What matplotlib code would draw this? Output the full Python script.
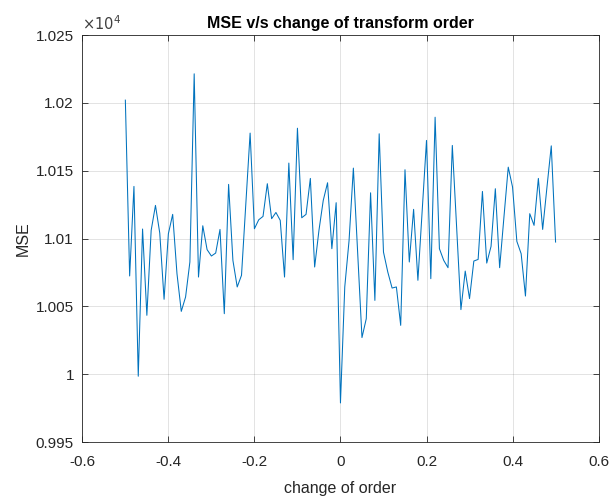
import numpy as np
import matplotlib
matplotlib.use("Agg")
import matplotlib.pyplot as plt
from matplotlib.ticker import FuncFormatter

# change of transform order, -0.5 .. 0.5 in steps of 0.01
order_change = np.round(np.arange(-50, 51) / 100, 2)

# MSE values (in units of 1e4)
mse_scaled = [
    1.0202, 1.00724, 1.01384, 0.99985, 1.0107, 1.00434, 1.0106, 1.01244, 1.0104, 1.00552,
    1.01035, 1.01178, 1.00741, 1.00463, 1.00569, 1.00827, 1.02214, 1.00716, 1.01094, 1.00918,
    1.00871, 1.00893, 1.01067, 1.00446, 1.01399, 1.00839, 1.00643, 1.00729, 1.01254, 1.01777,
    1.01072, 1.01138, 1.01163, 1.01404, 1.01146, 1.01192, 1.01134, 1.00716, 1.01556, 1.00844,
    1.01813, 1.01153, 1.01178, 1.01443, 1.0079, 1.0106, 1.01281, 1.01411, 1.00925, 1.01264,
    0.99788, 1.00643, 1.00986, 1.01519, 1.00895, 1.0027, 1.00409, 1.01337, 1.00544, 1.01772,
    1.009, 1.00753, 1.00635, 1.00643, 1.0036, 1.01507, 1.00827, 1.01215, 1.00692, 1.01207,
    1.01723, 1.00704, 1.01894, 1.00925, 1.00839, 1.00785, 1.01686, 1.01084, 1.00476, 1.0076,
    1.00557, 1.00834, 1.00846, 1.01347, 1.00819, 1.00942, 1.01367, 1.00785, 1.01158, 1.01526,
    1.01379, 1.00979, 1.00888, 1.00576, 1.01183, 1.01097, 1.01443, 1.01067, 1.01379, 1.01683,
    1.00974,
]
mse = np.array(mse_scaled) * 1e4

x_ticks = [-0.6, -0.4, -0.2, 0, 0.2, 0.4, 0.6]
y_ticks = np.array([0.995, 1.0, 1.005, 1.01, 1.015, 1.02, 1.025]) * 1e4

plt.rcParams['font.family'] = ['Liberation Sans', 'DejaVu Sans']

fig = plt.figure(figsize=(6.13, 4.98), dpi=100)
ax = fig.add_axes([0.1343, 0.1124, 0.8422, 0.8173])

ax.plot(order_change, mse, color='#0072BD', linewidth=0.75)

ax.set_xlim(-0.6, 0.6)
ax.set_ylim(0.995e4, 1.025e4)
ax.set_xticks(x_ticks)
ax.set_yticks(y_ticks)
ax.xaxis.set_major_formatter(FuncFormatter(lambda v, p: f"{v:g}"))
ax.yaxis.set_major_formatter(FuncFormatter(lambda v, p: f"{round(v / 1e4, 3):g}"))

ax.grid(True, color='#262626', alpha=0.15, linewidth=0.6)
ax.tick_params(direction='in', length=4, width=0.6, colors='#262626',
               labelsize=11, top=True, right=True, labeltop=False, labelright=False)
ax.tick_params(axis='x', pad=9)
ax.tick_params(axis='y', pad=6)
for s in ax.spines.values():
    s.set_color('#262626')
    s.set_linewidth(0.6)

ax.text(0.0, 1.004, r'$\times10^{4}$', transform=ax.transAxes, fontsize=10.5,
        color='#404040', ha='left', va='bottom')
ax.set_title('MSE v/s change of transform order', fontsize=11.5, fontweight='bold',
             color='black', pad=5)
ax.set_xlabel('change of order', fontsize=11.5, color='#262626', labelpad=9)
ax.set_ylabel('MSE', fontsize=11.5, color='#262626', labelpad=4)

fig.savefig('out.png', dpi=100)
